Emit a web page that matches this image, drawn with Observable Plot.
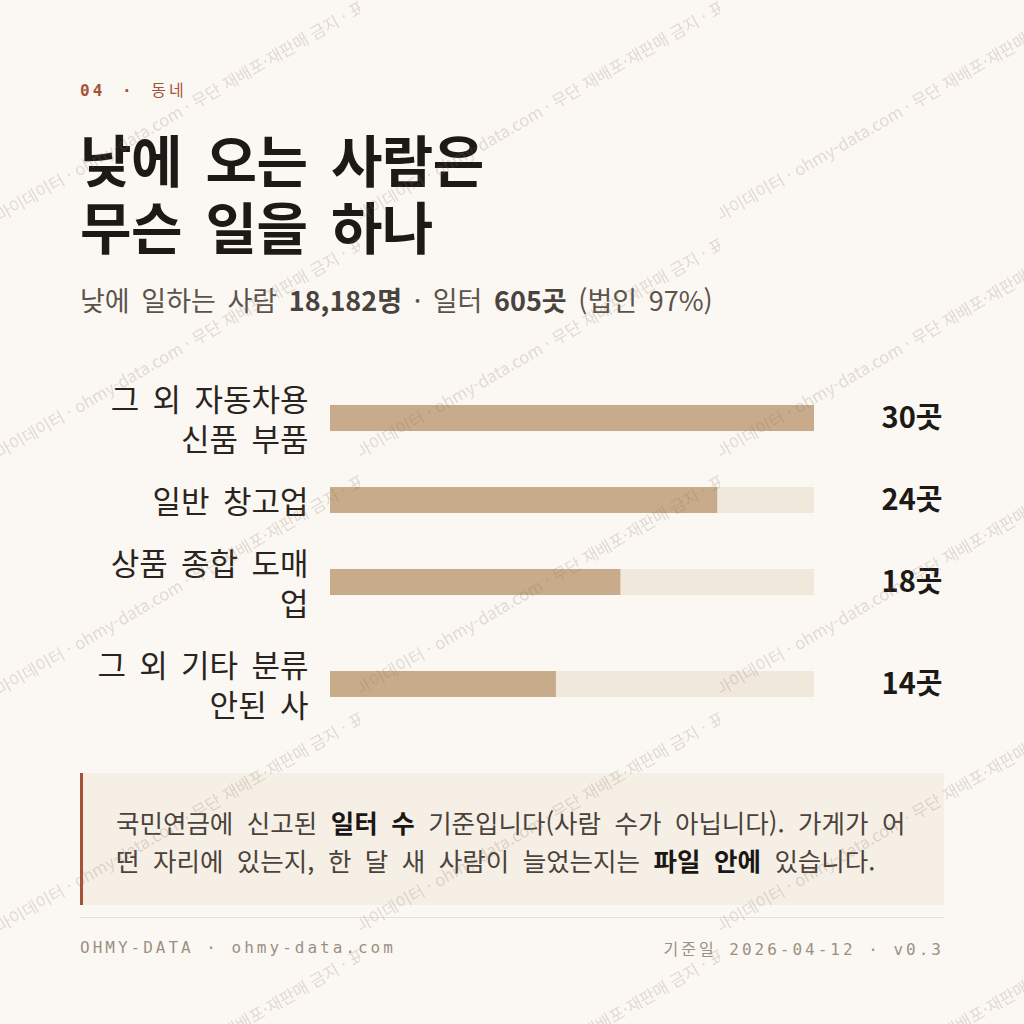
<!DOCTYPE html>
<html lang="ko">
<head>
<meta charset="utf-8">
<script src="https://cdn.jsdelivr.net/npm/d3@7"></script>
<script src="https://cdn.jsdelivr.net/npm/@observablehq/plot@0.6"></script>
<style>
  html, body { margin: 0; padding: 0; }
  body {
    width: 1024px; height: 1024px; overflow: hidden;
    background: #fbf8f3;
    font-family: "Noto Sans CJK KR", "Noto Sans", sans-serif;
    position: relative;
  }
  .wrap { position: absolute; left: 80px; top: 0; width: 864px; }
  .kicker {
    margin-top: 79px; height: 20px; line-height: 20px;
    font-family: "DejaVu Sans Mono", monospace; font-size: 16px; font-weight: 700;
    letter-spacing: 3px; word-spacing: 4px; color: #a4523a;
  }
  .kicker .ko { font-family: "Noto Sans CJK KR", sans-serif; font-weight: 400; }
  h1 {
    margin: 25px 0 0 0; font-size: 56px; line-height: 67px; font-weight: 700;
    color: #1d1916; word-spacing: 0.15em; letter-spacing: -0.01em;
  }
  .sub {
    margin-top: 24px; font-size: 27px; line-height: 36px; color: #5b534c;
    word-spacing: 0.15em;
  }
  .sub b { font-weight: 700; color: #4a433d; }
  .chart { margin-top: 60px; display: flex; flex-direction: column; gap: 22px; }
  .chart svg { display: block; overflow: visible; }
  .note {
    margin-top: 49px; background: #f6efe6; border-left: 3px solid #a4523a;
    padding: 30px 32px 26px 33px; font-size: 25.5px; line-height: 38px; color: #4a423b;
    word-spacing: 0.25em;
  }
  .note b { color: #1a1715; font-weight: 700; }
  .sep { margin-top: 12px; height: 1px; background: #e6e0d6; }
  .foot {
    margin-top: 20px; height: 20px; line-height: 20px; display: flex; justify-content: space-between;
    font-family: "DejaVu Sans Mono", monospace; font-size: 16px; letter-spacing: 3px; color: #9b9083;
  }
  .foot .ko { font-family: "Noto Sans CJK KR", sans-serif; }
  #wm { position: absolute; left: 0; top: 0; pointer-events: none; }
</style>
</head>
<body>
<div class="wrap">
  <div class="kicker">04 · <span class="ko">동네</span></div>
  <h1 id="title"></h1>
  <div class="sub" id="sub"></div>
  <div class="chart" id="chart"></div>
  <div class="note">국민연금에 신고된 <b>일터 수</b> 기준입니다(사람 수가 아닙니다). 가게가 어떤 자리에 있는지, 한 달 새 사람이 늘었는지는 <b>파일 안에</b> 있습니다.</div>
  <div class="sep"></div>
  <div class="foot"><span>OHMY-DATA · ohmy-data.com</span><span><span class="ko">기준일</span> 2026-04-12 · v0.3</span></div>
</div>
<svg id="wm" width="1024" height="1024"></svg>
<script>
// ---- data ----
const titleLines = ["낮에 오는 사람은", "무슨 일을 하나"];
const totalPeople = 18182;
const totalSites = 605;
const corpShare = 97;
const categories = ["그 외 자동차용\n신품 부품", "일반 창고업", "상품 종합 도매\n업", "그 외 기타 분류\n안된 사"];
const counts = [30, 24, 18, 14];
const unit = "곳";
const watermarkText = "마이데이터 · ohmy-data.com · 무단 재배포·재판매 금지 · 표본";

// ---- header ----
document.getElementById("title").innerHTML = titleLines.join("<br>");
document.getElementById("sub").innerHTML =
  `낮에 일하는 사람 <b>${d3.format(",")(totalPeople)}명</b> · 일터 <b>${totalSites}${unit}</b> (법인 ${corpShare}%)`;

// ---- chart rows ----
const maxVal = d3.max(counts);
const rows = categories.map((c, i) => ({label: c, value: counts[i], max: maxVal, lines: c.split("\n").length}));
const chart = document.getElementById("chart");
for (const r of rows) {
  const h = r.lines * 40;
  const p = Plot.plot({
    width: 864,
    height: h,
    marginLeft: 250,
    marginRight: 130,
    marginTop: (h - 26) / 2,
    marginBottom: (h - 26) / 2,
    x: {domain: [0, maxVal], axis: null},
    y: {domain: [r.label], axis: null, padding: 0},
    style: {background: "transparent", fontFamily: "'Noto Sans CJK KR', sans-serif", overflow: "visible"},
    marks: [
      Plot.barX([r], {x: "max", y: "label", fill: "#f1e8dc"}),
      Plot.barX([r], {x: "value", y: "label", fill: "#c8ab8a"}),
      Plot.text([r], {y: "label", text: "label", frameAnchor: "left", textAnchor: "end", dx: -22,
        fontSize: 31, lineHeight: 40 / 31, fill: "#2a2420"}),
      Plot.text([r], {y: "label", text: d => d.value + unit, frameAnchor: "right", textAnchor: "end", dx: 128,
        fontSize: 29, fontWeight: 700, fill: "#1d1916"})
    ]
  });
  p.querySelectorAll("text").forEach(t => t.style.wordSpacing = "0.15em");
  chart.appendChild(p);
}

// ---- watermark ----
const wm = d3.select("#wm");
const pat = wm.append("defs").append("pattern")
  .attr("id", "wmp").attr("patternUnits", "userSpaceOnUse")
  .attr("width", 360).attr("height", 237)
  .attr("patternTransform", "translate(0,-10)");
pat.append("text")
  .attr("x", 0).attr("y", 232)
  .attr("transform", "rotate(-30,0,232)")
  .attr("font-family", "'Noto Sans CJK KR', sans-serif")
  .attr("font-size", 16.6)
  .attr("fill", "#7d6d5d").attr("fill-opacity", 0.22)
  .text(watermarkText);
wm.append("rect").attr("width", 1024).attr("height", 1024).attr("fill", "url(#wmp)");
</script>
</body>
</html>
